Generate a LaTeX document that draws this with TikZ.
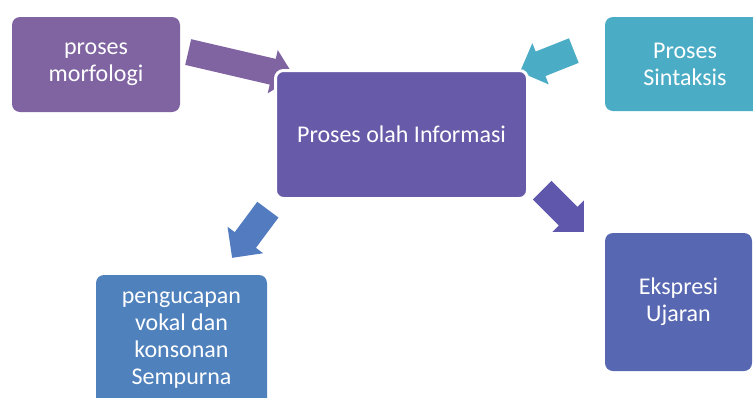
\documentclass[tikz,border=0pt]{standalone}
\usepackage{fontspec}
\setmainfont{Carlito}
\usetikzlibrary{shapes.arrows}
\definecolor{morf}{HTML}{8064A2}
\definecolor{olah}{HTML}{675BA9}
\definecolor{sint}{HTML}{4BACC6}
\definecolor{ucap}{HTML}{4F81BD}
\definecolor{ujar}{HTML}{5767B1}
\definecolor{panahucap}{HTML}{527CBF}
\definecolor{panahujar}{HTML}{5F57AB}

\begin{document}
\begin{tikzpicture}[x=1pt, y=-1pt, font=\fontsize{24}{27}\selectfont,
  box/.style={rounded corners=8pt, text=white, align=center, inner sep=0pt},
  blok/.style={single arrow, single arrow head extend=9pt, minimum width=44pt,
    inner xsep=0pt, inner ysep=13pt, anchor=tail}]
  \clip (0,0) rectangle (753,397);
  % Boxes
  \node[box, fill=morf, minimum width=168pt, minimum height=95pt] (morf) at (96,64.5) {proses\\morfologi};
  \node[box, fill=sint, minimum width=160pt, minimum height=94pt] (sint) at (685,64) {Proses\\Sintaksis};
  \node[box, fill=ucap, minimum width=171pt, minimum height=131pt] (ucap) at (181.5,340.5) {pengucapan\\vokal dan\\konsonan\\Sempurna};
  \node[box, fill=ujar, minimum width=147pt, minimum height=138pt] (ujar) at (678.5,302) {Ekspresi\\Ujaran};
  % Block arrows
  \node[blok, fill=morf, minimum height=109pt, rotate=-13.1] (pMorf) at (188,52) {};
  \node[blok, fill=sint, minimum height=58pt, rotate=201.7] (pSint) at (574,50.5) {};
  \node[blok, fill=panahucap, minimum height=60pt, rotate=233.4] (pUcap) at (268,209.5) {};
  \node[blok, fill=panahujar, minimum height=59pt, rotate=-45] (pUjar) at (542,190) {};
  % Centre
  \node[box, fill=olah, draw=white, line width=3pt, minimum width=252pt, minimum height=128pt] (olah) at (401.5,134.5) {Proses olah Informasi};
\end{tikzpicture}
\end{document}
